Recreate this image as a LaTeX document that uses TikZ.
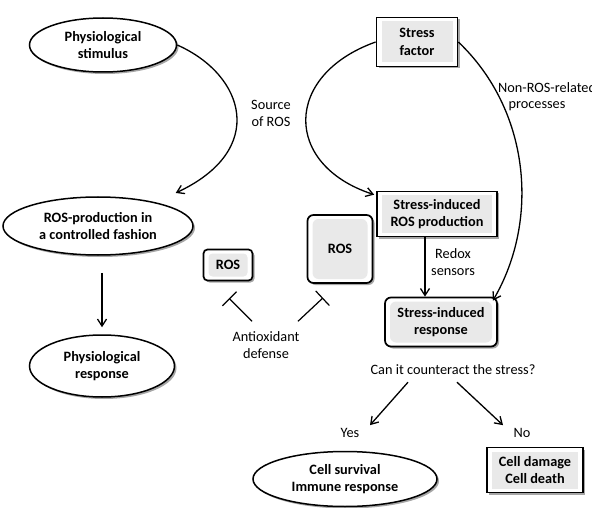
\documentclass[tikz,border=0pt]{standalone}
\usepackage{fontspec}
\setmainfont{Carlito}
\usetikzlibrary{shapes.geometric,shadows,arrows.meta,calc}
\begin{document}
\begin{tikzpicture}[x=1pt,y=-1pt,
  txt/.style={font=\fontsize{14.3}{17}\selectfont, align=center, inner sep=1pt},
  btxt/.style={font=\bfseries\fontsize{14.3}{17.5}\selectfont, align=center},
  shd/.style={drop shadow={shadow xshift=2pt, shadow yshift=-2pt, opacity=0.35, fill=black}},
  ell/.style={ellipse, draw, line width=1.5pt, fill=white, btxt, shd, inner sep=0pt},
  sqbox/.style={rectangle, draw, line width=1.7pt, fill=white, btxt, shd, inner sep=0pt,
    path picture={\fill[gray!17] ([xshift=5pt,yshift=-4pt]path picture bounding box.north west) rectangle ([xshift=-5pt,yshift=4pt]path picture bounding box.south east);}},
  rbox/.style={sqbox, rounded corners=6pt},
  arr/.style={-{Straight Barb[length=7pt,width=9pt,line width=1.3pt]}, line width=1.3pt},
  inh/.style={-{Bar[width=20pt]}, line width=1.2pt}
]
\useasboundingbox (0,0) rectangle (592,508);

% nodes
\node[ell, minimum width=147pt, minimum height=54pt] (ps) at (103,45) {Physiological\\stimulus};
\node[ell, minimum width=190pt, minimum height=58pt] (rp) at (98,226) {ROS-production in\\a controlled fashion};
\node[ell, minimum width=145pt, minimum height=62pt] (pr) at (102,366) {Physiological\\response};
\node[sqbox, minimum width=81pt, minimum height=49pt] (sf) at (417,42) {Stress\\factor};
\node[sqbox, minimum width=120pt, minimum height=45pt] (sir) at (437,214) {Stress-induced\\ROS production};
\node[rbox, minimum width=65pt, minimum height=68pt] (rosbig) at (340,249) {ROS};
\node[rbox, minimum width=49pt, minimum height=31pt, rounded corners=4pt] (rossmall) at (228,265) {ROS};
\node[rbox, minimum width=112pt, minimum height=49pt] (sresp) at (441,322) {Stress-induced\\response};
\node[ell, minimum width=184pt, minimum height=55pt] (cs) at (345,479) {Cell survival\\Immune response};
\node[sqbox, minimum width=96pt, minimum height=45pt] (cd) at (535,470) {Cell damage\\Cell death};

% labels
\node[txt] (src) at (271,113) {Source\\of ROS};
\node[txt, anchor=west] (nr1) at (497,88) {Non-ROS-related};
\node[txt] (nr2) at (537,106) {processes};
\node[txt] (redox) at (453,262) {Redox\\sensors};
\node[txt] (ad) at (266,345) {Antioxidant\\defense};
\node[txt] (q) at (453,370) {Can it counteract the stress?};
\node[txt] (yes) at (350,433) {Yes};
\node[txt] (no) at (522,433) {No};

% connectors
\draw[arr] (ps.east) .. controls (245,75) and (268,150) .. ([xshift=10pt,yshift=12pt]rp.north east);
\draw[arr, shorten <=17pt, shorten >=7pt] (pr.north |- rp.south) -- (pr.north);
\draw[arr] (sf.west) .. controls (283,75) and (283,165) .. ([xshift=-2pt,yshift=-4pt]sir.north west);
\draw[arr] (sf.east) .. controls (530,110) and (540,220) .. ([xshift=-5pt,yshift=-4pt]sresp.north east);
\draw[arr] ([xshift=-12pt]sir.south) -- ([xshift=-12pt]sir.south |- sresp.north);
\draw[arr] ([xshift=-45pt,yshift=-6pt]q.south) -- ([xshift=20pt,yshift=2pt]yes.north);
\draw[arr] ([xshift=4pt,yshift=-6pt]q.south) -- ([xshift=-19pt,yshift=2pt]no.north);
\draw[inh] ([xshift=-14pt,yshift=9pt]ad.north) -- ([xshift=1pt,yshift=-17pt]rossmall.south);
\draw[inh] ([xshift=32pt,yshift=9pt]ad.north) -- ([xshift=-17pt,yshift=-14pt]rosbig.south);
\end{tikzpicture}
\end{document}
